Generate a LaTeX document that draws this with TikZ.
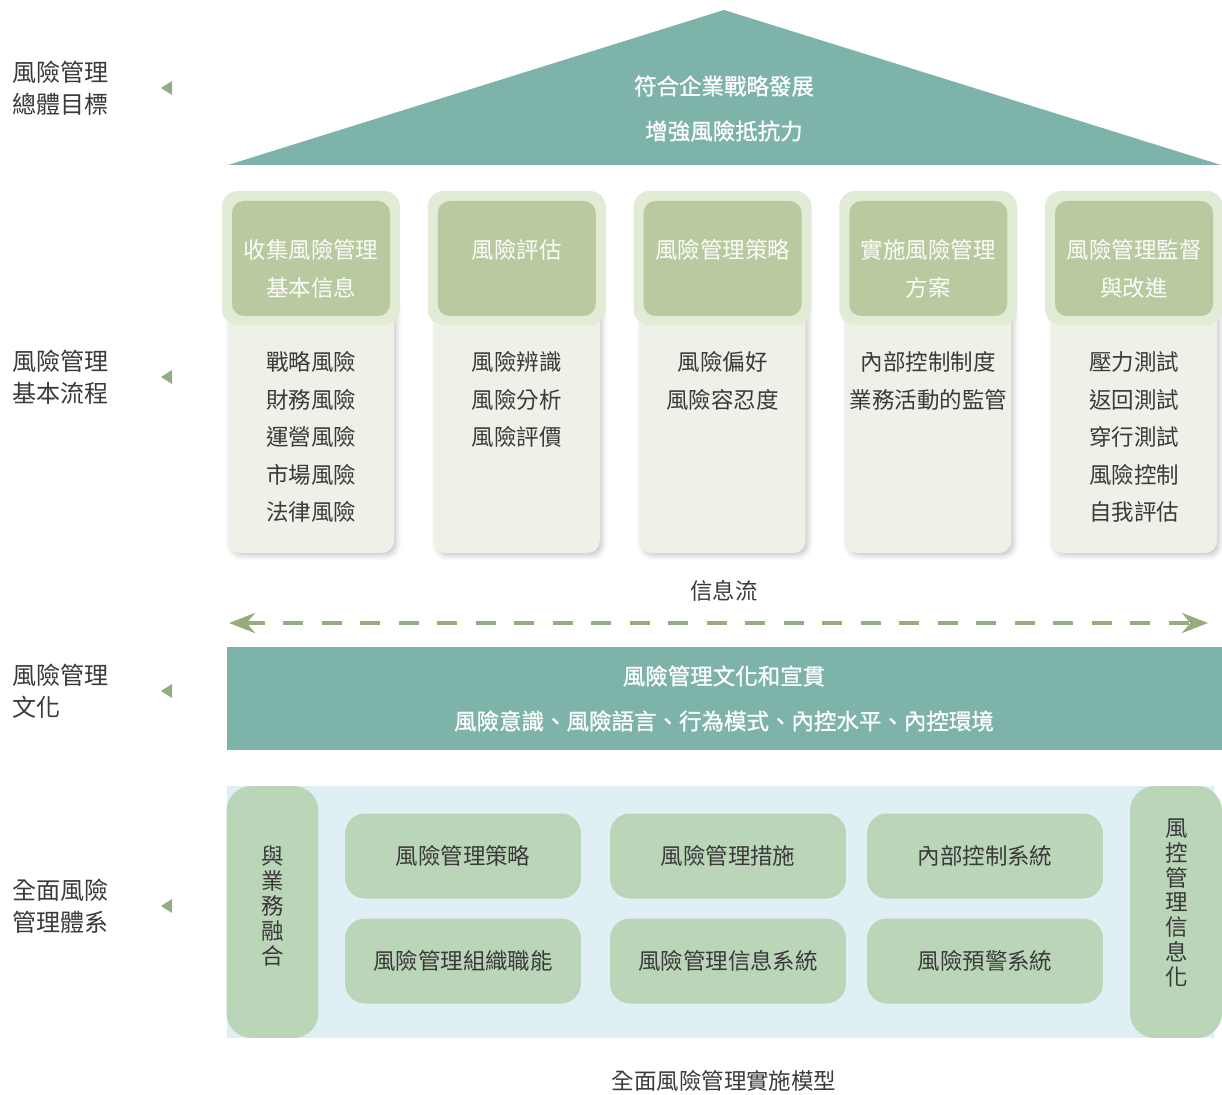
\documentclass[tikz,border=0pt]{standalone}
\usepackage{fontspec}
\setmainfont{Noto Sans CJK TC}
\newfontfamily\medfont[FakeBold=0.9]{Noto Sans CJK TC}
\usetikzlibrary{arrows.meta,shadows.blur}

\definecolor{roofteal}{HTML}{7DB3A8}
\definecolor{headfill}{HTML}{B9C9A0}
\definecolor{halofill}{HTML}{E2EBD6}
\definecolor{bodyfill}{HTML}{EEF1E8}
\definecolor{basefill}{HTML}{E0EFF4}
\definecolor{boxfill}{HTML}{BBD5B9}
\definecolor{flowgreen}{HTML}{93AD7E}
\definecolor{ink}{HTML}{3A3A3A}

\tikzset{
	txt/.style={inner sep=0pt, text=ink, font=\fontsize{12.8}{15}\selectfont, text height=11.3pt, text depth=1.5pt},
	headtxt/.style={txt, text=white!96!headfill},
	roottxt/.style={txt, text=white, font=\medfont\fontsize{12.8}{15}\selectfont},
	sidetxt/.style={inner sep=0pt, text=ink, align=left, font=\fontsize{13.7}{18.2}\selectfont},
	subbox/.style={txt, fill=boxfill, rounded corners=0.4cm, minimum width=4.72cm, minimum height=1.7cm},
	pillar/.style={fill=boxfill, rounded corners=0.5cm, inner sep=0pt, minimum width=1.84cm, minimum height=5.04cm},
	pillartxt/.style={inner sep=0pt, text=ink, align=center, font=\fontsize{12.8}{14.2}\selectfont},
	flow/.style={flowgreen, line width=2.8pt, dash pattern=on 0.4cm off 0.37cm,
		arrows={Stealth[length=0.52cm, width=0.4cm]-Stealth[length=0.52cm, width=0.4cm]}}
}

\begin{document}
\begin{tikzpicture}[x=0.02cm, y=-0.02cm]
	\useasboundingbox (0,0) rectangle (1222,1094);

	\foreach \t/\y [count=\i] in {{風險管理\\總體目標}/88, {風險管理\\基本流程}/377, {風險管理\\文化}/691, {全面風險\\管理體系}/906} {
		\node[sidetxt, anchor=west] (side\i) at (12,\y) {\t};
		\fill[flowgreen] (161,\y) -- (172,\y-7) -- (172,\y+7) -- cycle;
	}

	\fill[roofteal] (724,10) -- (1221,165) -- (228,165) -- cycle;
	\node[roottxt] (goal1) at (724,86) {符合企業戰略發展};
	\node[roottxt] (goal2) at (724,131) {增強風險抵抗力};

	\foreach \hd/\items [count=\i from 0] in {
		{收集風險管理,基本信息}/{戰略風險,財務風險,運營風險,市場風險,法律風險},
		{風險評估}/{風險辨識,風險分析,風險評價},
		{風險管理策略}/{風險偏好,風險容忍度},
		{實施風險管理,方案}/{內部控制制度,業務活動的監管},
		{風險管理監督,與改進}/{壓力測試,返回測試,穿行測試,風險控制,自我評估}} {
		\pgfmathsetmacro\cx{311+205.75*\i}
		\fill[bodyfill, rounded corners=0.24cm, blur shadow={shadow xshift=1.5pt, shadow yshift=-1.5pt, shadow blur radius=3pt, shadow opacity=22}]
			(\cx-83,300) rectangle (\cx+83,553);
		\fill[halofill, rounded corners=0.32cm] (\cx-89,191) rectangle (\cx+89,325);
		\fill[headfill, rounded corners=0.24cm] (\cx-79,201) rectangle (\cx+79,316);
		\foreach \l [count=\k from 0] in \hd
			\node[headtxt] (head\i-\k) at (\cx,250+38*\k) {\l};
		\foreach \l [count=\k from 0] in \items
			\node[txt] (item\i-\k) at (\cx,362+37.5*\k) {\l};
	}

	\node[txt] (flowlabel) at (724,591) {信息流};
	\coordinate (flowL) at (229,623);
	\coordinate (flowR) at (1208,623);
	\draw[flow] (flowL) -- (flowR);

	\fill[roofteal] (227,647) rectangle (1222,750);
	\node[roottxt] (culture1) at (724,676) {風險管理文化和宣貫};
	\node[roottxt] (culture2) at (724,721) {風險意識、風險語言、行為模式、內控水平、內控環境};

	\fill[basefill] (227,786) rectangle (1214,1038);
	\node[pillar] (fusebar) at (272.5,912) {};
	\node[pillartxt] (fusetxt) at (272.5,906) {與\\業\\務\\融\\合};
	\node[pillar] (infobar) at (1176,912) {};
	\node[pillartxt] (infotxt) at (1177,903) {風\\控\\管\\理\\信\\息\\化};

	\foreach \x/\y/\t [count=\i] in {463/856/風險管理策略, 728/856/風險管理措施, 985/856/內部控制系統,
		463/961/風險管理組織職能, 728/961/風險管理信息系統, 985/961/風險預警系統}
		\node[subbox] (sys\i) at (\x,\y) {\t};

	\node[txt] (caption) at (724,1081) {全面風險管理實施模型};
\end{tikzpicture}
\end{document}
